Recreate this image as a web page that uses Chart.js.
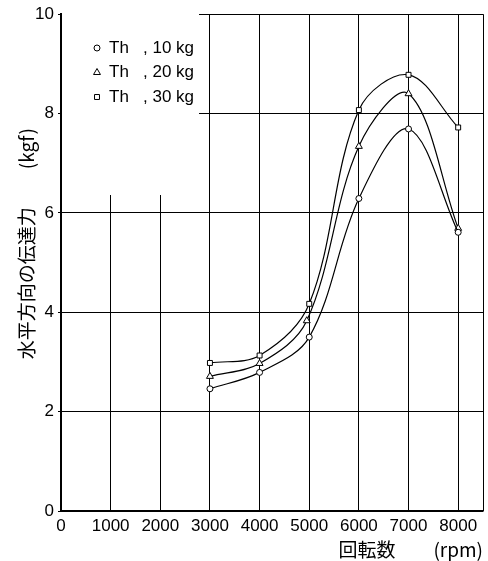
<!DOCTYPE html>
<html><head><meta charset="utf-8">
<script src="https://cdn.jsdelivr.net/npm/chart.js@4/dist/chart.umd.min.js"></script>
<style>html,body{margin:0;padding:0;background:#fff}#wrap{width:488px;height:561px}</style>
</head><body><div id="wrap"><canvas id="c" width="488" height="561"></canvas></div>
<script>
const rpm = [3000, 4000, 5000, 6000, 7000, 8000];
const rpm20 = [3000, 4000, 4950, 6000, 7000, 8000];
const th10 = [2.46, 2.79, 3.50, 6.29, 7.69, 5.61];
const th20 = [2.71, 2.97, 3.83, 7.34, 8.40, 5.69];
const th30 = [2.98, 3.13, 4.17, 8.07, 8.78, 7.72];
const seriesLabels = ['Th   , 10 kg', 'Th   , 20 kg', 'Th   , 30 kg'];
const xTicks = [0, 1000, 2000, 3000, 4000, 5000, 6000, 7000, 8000];
const yTicks = [0, 2, 4, 6, 8, 10];
const xTitle = '回転数　　(rpm)';
const yTitle = '　　水平方向の伝達力　　(kgf)';

const pts = (xs, ys) => xs.map((x, i) => ({x, y: ys[i]}));
const mk = (label, data, style, r) => ({
  label, data, pointStyle: style, pointRadius: r, pointHoverRadius: r,
  borderColor: '#000', backgroundColor: '#fff', pointBackgroundColor: '#fff',
  pointBorderColor: '#000', pointBorderWidth: 1, borderWidth: 1.2,
  tension: 0.35, fill: false
});

const legendPlugin = {
  id: 'inlegend',
  beforeDatasetsDraw(chart) {
    const ctx = chart.ctx;
    ctx.save(); ctx.fillStyle = '#fff';
    ctx.fillRect(62, 11, 137, 184);
    ctx.restore();
  },
  afterDatasetsDraw(chart) {
    const ctx = chart.ctx;
    ctx.save();
    chart.data.datasets.forEach((ds, i) => {
      const y = 48 + i * 24.5;
      ctx.fillStyle = '#fff'; ctx.strokeStyle = '#000'; ctx.lineWidth = 1;
      Chart.helpers.drawPoint(ctx, {pointStyle: ds.pointStyle, radius: ds.pointRadius, borderWidth: 1, rotation: 0}, 97, y);
      ctx.fillStyle = '#000';
      ctx.font = '17px "Liberation Sans"';
      ctx.textBaseline = 'middle'; ctx.textAlign = 'left';
      ctx.fillText(ds.label, 109, y);
    });
    ctx.restore();
  }
};

new Chart(document.getElementById('c'), {
  type: 'line',
  data: { datasets: [
    mk(seriesLabels[0], pts(rpm, th10), 'circle', 3),
    mk(seriesLabels[1], pts(rpm20, th20), 'triangle', 4),
    mk(seriesLabels[2], pts(rpm, th30), 'rect', 3.5)
  ]},
  options: {
    responsive: false, animation: false,
    layout: { padding: { top: 9, right: 1, left: 0, bottom: 0 } },
    plugins: { legend: { display: false }, tooltip: { enabled: false } },
    scales: {
      x: {
        type: 'linear', min: 0, max: 8500,
        afterBuildTicks(s) { s.ticks = xTicks.map(v => ({value: v})).concat([{value: 8500}]); },
        ticks: { color: '#000', font: { family: 'Liberation Sans', size: 17 }, padding: 5, maxRotation: 0,
                 callback: v => (xTicks.includes(v) ? String(v) : '') },
        grid: { color: '#000', lineWidth: 1, drawTicks: false },
        border: { color: '#000', width: 1.5 },
        title: { display: true, text: xTitle, align: 'end', color: '#000',
                 font: { family: '"Noto Sans CJK JP"', size: 19 }, padding: { top: 0, bottom: 0 } },
        afterFit(s) { s.height = 50; }
      },
      y: {
        min: 0, max: 10,
        afterBuildTicks(s) { s.ticks = yTicks.map(v => ({value: v})); },
        ticks: { color: '#000', font: { family: 'Liberation Sans', size: 17 }, padding: 4 },
        grid: { color: '#000', lineWidth: 1, tickLength: 3 },
        border: { color: '#000', width: 2 },
        title: { display: true, text: yTitle, color: '#000',
                 font: { family: '"Noto Sans CJK JP"', size: 19 }, padding: { top: 15, bottom: 0 } },
        afterFit(s) { s.width = 61; }
      }
    }
  },
  plugins: [legendPlugin]
});
</script></body></html>
